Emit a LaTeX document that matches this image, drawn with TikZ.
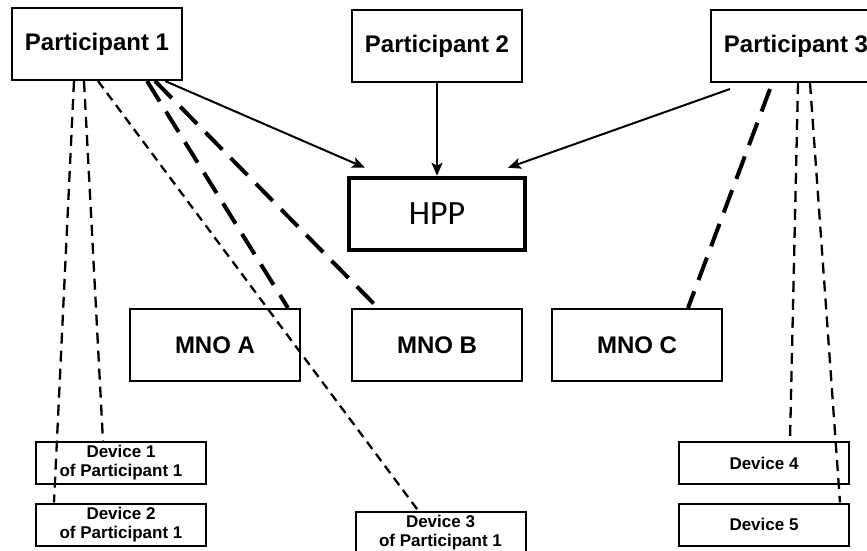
\documentclass[tikz,border=0pt]{standalone}
\usepackage{fontspec}
\setmainfont{Liberation Sans}
\newfontfamily\hppfont{Carlito}
\usetikzlibrary{calc, positioning, arrows.meta}

\begin{document}
\begin{tikzpicture}[x=1pt, y=-1pt,
  party/.style={draw, line width=2pt, minimum width=170pt, minimum height=72pt,
    inner sep=0pt, font=\bfseries\fontsize{24}{26}\selectfont},
  device/.style={draw, line width=2pt, minimum width=170pt, minimum height=42pt,
    inner sep=0pt, align=center, font=\bfseries\fontsize{17}{19}\selectfont},
  hub/.style={draw, line width=4.5pt, minimum width=176pt, minimum height=72pt,
    font=\hppfont\fontsize{34}{36}\selectfont},
  feed/.style={line width=2pt, -{Stealth[length=13pt,width=11pt,inset=3pt]}},
  mnolink/.style={line width=4pt, dash pattern=on 24pt off 12pt},
  devlink/.style={line width=2.3pt, dash pattern=on 11pt off 7pt}]
  \useasboundingbox (0,0) rectangle (867,551);

  % participants and the hub
  \node[party] (p1) at (97,44) {Participant 1};
  \node[party] (p2) at (437,46) {Participant 2};
  \node[party] (p3) at (796,46) {Participant 3};
  \node[hub] (hpp) at (437,214) {HPP};

  % network operators
  \node[party] (mnoA) at (215,345) {MNO A};
  \node[party] (mnoB) at (437,345) {MNO B};
  \node[party] (mnoC) at (637,345) {MNO C};

  % devices
  \node[device] (dev1) at (121,463) {Device 1\\of Participant 1};
  \node[device] (dev2) at (121,524.5) {Device 2\\of Participant 1};
  \node[device] (dev3) at (440.5,533) {Device 3\\of Participant 1};
  \node[device] (dev4) at (764,463) {Device 4};
  \node[device] (dev5) at (764,524.5) {Device 5};

  % links to the hub
  \draw[feed] ([xshift=68pt]p1.south) -- ([xshift=-72pt,yshift=8pt]hpp.north);
  \draw[feed] (p2.south) -- (hpp.north);
  \draw[feed] ([xshift=-66pt,yshift=-6pt]p3.south) -- ([xshift=71pt,yshift=8pt]hpp.north);

  % operator links
  \draw[mnolink] ([xshift=50pt]p1.south) -- ([xshift=73pt]mnoA.north);
  \draw[mnolink] ([xshift=58pt]p1.south) -- ([xshift=-59pt]mnoB.north);
  \draw[mnolink] ([xshift=-26pt,yshift=-6pt]p3.south) -- ([xshift=51pt]mnoC.north);

  % device links
  \draw[devlink] ([xshift=-23pt]p1.south) -- ([xshift=-67pt]dev2.north);
  \draw[devlink] ([xshift=-13pt]p1.south) -- ([xshift=-18pt]dev1.north);
  \draw[devlink, dash pattern=on 9pt off 6pt] ([xshift=1pt]p1.south) -- ([xshift=-22pt]dev3.north);
  \draw[devlink] ([xshift=2pt]p3.south) -- ([xshift=26pt]dev4.north);
  \draw[devlink] ([xshift=14pt]p3.south) -- ([xshift=76pt]dev5.north);
\end{tikzpicture}
\end{document}
